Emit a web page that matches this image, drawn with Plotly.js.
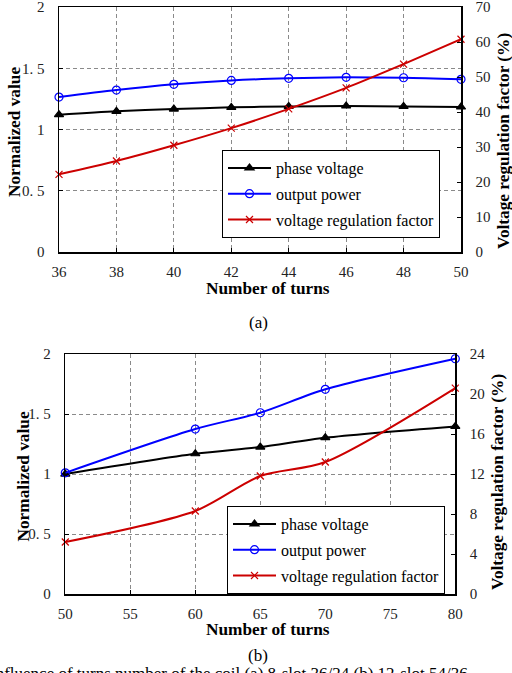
<!DOCTYPE html>
<html>
<head>
<meta charset="utf-8">
<script src="https://cdn.plot.ly/plotly-3.0.1.min.js"></script>
<style>
html,body{margin:0;padding:0;background:#fff;}
#chart{width:512px;height:673px;}
#chart svg text{font-family:"Liberation Serif","DejaVu Serif",serif !important;}
</style>
</head>
<body>
<div id="chart"></div>
<script>
// ---- Data: chart (a) ----
var turnsA = [36, 38, 40, 42, 44, 46, 48, 50];
var phaseVoltageA = [1.121, 1.149, 1.167, 1.181, 1.189, 1.192, 1.189, 1.184];
var outputPowerA = [1.265, 1.322, 1.369, 1.401, 1.418, 1.426, 1.423, 1.410];
var regulationA = [22.2, 26.0, 30.5, 35.4, 40.9, 46.9, 53.7, 60.8];

// ---- Data: chart (b) ----
var turnsB = [50, 60, 65, 70, 80];
var phaseVoltageB = [1.0, 1.169, 1.225, 1.303, 1.397];
var outputPowerB = [1.01, 1.375, 1.511, 1.706, 1.961];
var regulationB = [5.2, 8.3, 11.8, 13.2, 20.6];

// ---- Tick labels ----
var leftTickVals = [0, 0.5, 1, 1.5, 2];
var leftTickText = ["0", "0. 5", "1", "1. 5", "2"];
var rightTickValsA = [0, 10, 20, 30, 40, 50, 60, 70];
var rightTickValsB = [0, 4, 8, 12, 16, 20, 24];
var seriesNames = ["phase voltage", "output power", "voltage regulation factor"];
var xTitle = "Number of turns";
var leftTitle = "Normalized value";
var rightTitle = "Voltage regulation factor (%)";
var captionText = "Influence of turns number of the coil (a) 8-slot 36/24 (b) 12-slot 54/36";

var W = 512, H = 673;
function px(x) { return x / W; }
function py(y) { return 1 - y / H; }

var SERIF = "Liberation Serif, DejaVu Serif, serif";
var RED = "#cc0000", BLUE = "#0000ff", BLACK = "#000000";

function mkTrace(x, y, name, color, symbol, xa, ya, leg, msize) {
  return {
    x: x, y: y, name: name, type: "scatter", mode: "lines+markers",
    xaxis: xa, yaxis: ya, legend: leg, legendgroup: leg + name,
    cliponaxis: false,
    line: {color: color, width: 2, shape: "spline", smoothing: 0.8},
    marker: {symbol: symbol, size: msize, color: color, line: {color: color, width: 1.2}}
  };
}

var data = [
  mkTrace(turnsA, phaseVoltageA, seriesNames[0], BLACK, "triangle-up", "x", "y", "legend", 8),
  mkTrace(turnsA, outputPowerA, seriesNames[1], BLUE, "circle-open", "x", "y", "legend", 8),
  mkTrace(turnsA, regulationA, seriesNames[2], RED, "x-thin-open", "x", "y2", "legend", 7),
  mkTrace(turnsB, phaseVoltageB, seriesNames[0], BLACK, "triangle-up", "x2", "y3", "legend2", 8),
  mkTrace(turnsB, outputPowerB, seriesNames[1], BLUE, "circle-open", "x2", "y3", "legend2", 8),
  mkTrace(turnsB, regulationB, seriesNames[2], RED, "x-thin-open", "x2", "y4", "legend2", 7)
];

var tickFont = {family: SERIF, size: 15, color: "#222"};
var gridCol = "#8a8a8a";
var gdash = "4px,3px";

function xAxis(domain, range, dtick, anchor) {
  return {domain: domain, range: range, dtick: dtick, tick0: range[0], anchor: anchor,
    showline: true, linecolor: BLACK, linewidth: 1.5, mirror: true,
    ticks: "inside", ticklen: 4, tickcolor: BLACK,
    showgrid: true, gridcolor: gridCol, griddash: gdash, gridwidth: 1,
    zeroline: false, tickfont: tickFont, ticklabelstandoff: 5, ticklabeloverflow: "allow",
    fixedrange: true};
}
function yLeft(domain, anchor) {
  return {domain: domain, range: [0, 2.0005], tickvals: leftTickVals, ticktext: leftTickText, anchor: anchor,
    showline: true, linecolor: BLACK, linewidth: 1.5, mirror: false,
    ticks: "inside", ticklen: 4, tickcolor: BLACK,
    showgrid: true, gridcolor: gridCol, griddash: gdash, gridwidth: 1,
    zeroline: false, tickfont: tickFont, ticklabelstandoff: 10, ticklabeloverflow: "allow",
    fixedrange: true};
}
function yRight(range, tickvals, overlay, anchor) {
  return {range: range, tickvals: tickvals, overlaying: overlay, side: "right", anchor: anchor,
    showline: true, linecolor: BLACK, linewidth: 1.5,
    ticks: "inside", ticklen: 4, tickcolor: BLACK,
    showgrid: false, zeroline: false, tickfont: tickFont, ticklabelstandoff: 10,
    ticklabeloverflow: "allow", fixedrange: true};
}

var legendCommon = {
  bgcolor: "#ffffff", bordercolor: BLACK, borderwidth: 1,
  font: {family: SERIF, size: 16, color: BLACK},
  xanchor: "left", yanchor: "top", traceorder: "grouped", tracegroupgap: 2,
  itemwidth: 43
};

function ann(text, x, y, opts) {
  var a = {text: text, x: px(x), y: py(y), xref: "paper", yref: "paper", showarrow: false,
    xanchor: "center", yanchor: "middle",
    font: {family: SERIF, size: 17.3, color: BLACK}};
  for (var k in opts) a[k] = opts[k];
  return a;
}

var layout = {
  width: W, height: H, autosize: false,
  margin: {l: 0, r: 0, t: 0, b: 0},
  paper_bgcolor: "#ffffff", plot_bgcolor: "#ffffff",
  font: {family: SERIF},
  showlegend: true,
  xaxis: xAxis([px(59), px(461)], [36, 50], 2, "y"),
  yaxis: yLeft([py(252), py(7)], "x"),
  yaxis2: yRight([0, 70.02], rightTickValsA, "y", "x"),
  xaxis2: xAxis([px(65.3), px(455.3)], [50, 80], 5, "y3"),
  yaxis3: yLeft([py(594), py(354)], "x2"),
  yaxis4: yRight([0, 24.007], rightTickValsB, "y3", "x2"),
  legend: Object.assign({}, legendCommon, {x: px(222), y: py(150)}),
  legend2: Object.assign({}, legendCommon, {x: px(227), y: py(506)}),
  annotations: [
    ann("<b>" + leftTitle + "</b>", 15, 132, {textangle: -90}),
    ann("<b>" + rightTitle + "</b>", 503, 141, {textangle: -90}),
    ann("<b>" + xTitle + "</b>", 267.5, 288),
    ann("(a)", 258, 322, {font: {family: SERIF, size: 17, color: BLACK}}),
    ann("<b>" + leftTitle + "</b>", 23, 476.5, {textangle: -90}),
    ann("<b>" + rightTitle + "</b>", 497, 482, {textangle: -90}),
    ann("<b>" + xTitle + "</b>", 267.5, 629),
    ann("(b)", 258, 655, {font: {family: SERIF, size: 17, color: BLACK}}),
    ann(captionText, -12, 662, {xanchor: "left", yanchor: "top", font: {family: SERIF, size: 17, color: BLACK}})
  ]
};

Plotly.newPlot("chart", data, layout, {staticPlot: true, displayModeBar: false});
</script>
</body>
</html>
